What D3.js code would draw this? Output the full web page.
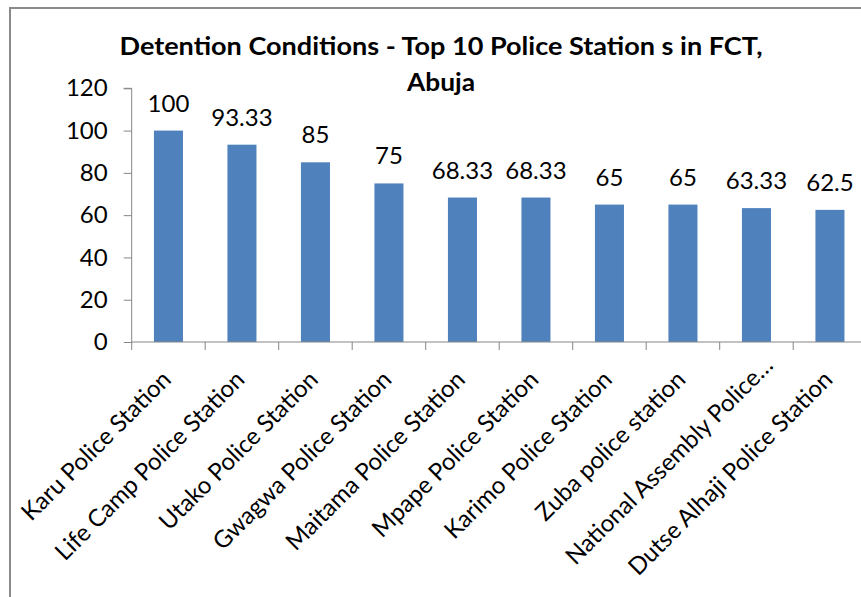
<!DOCTYPE html>
<html><head><meta charset="utf-8">
<script src="https://cdn.jsdelivr.net/npm/d3@7"></script>
<style>body{margin:0;background:#fff}svg{display:block}</style>
</head><body>
<svg id="c" width="861" height="597"></svg>
<script>
const categories = ["Karu Police Station","Life Camp Police Station","Utako Police Station","Gwagwa Police Station","Maitama Police Station","Mpape Police Station","Karimo Police Station","Zuba police station","National Assembly Police…","Dutse Alhaji Police Station"];
const values = [100, 93.33, 85, 75, 68.33, 68.33, 65, 65, 63.33, 62.5];
const valueLabels = ["100","93.33","85","75","68.33","68.33","65","65","63.33","62.5"];
const yTicks = [0, 20, 40, 60, 80, 100, 120];
const titleLines = ["Detention Conditions - Top 10 Police Station s in FCT,", "Abuja"];

const svg = d3.select("#c");
const font = "Lato, 'Open Sans', sans-serif";

// outer border
svg.append("rect").attr("x",10).attr("y",8).attr("width",900).attr("height",650)
  .attr("fill","#fff").attr("stroke","#8a8a8a").attr("stroke-width",2);

const x0 = 131.7, step = 73.5;
const x = d3.scaleBand().domain(categories).range([x0, x0 + step*categories.length])
  .paddingInner(0.605).paddingOuter(0.3025);
const y = d3.scaleLinear().domain([0,120]).range([342, 88.3]);

// bars
svg.append("g").selectAll("rect").data(values).join("rect")
  .attr("x",(d,i)=>x(categories[i])).attr("width",x.bandwidth())
  .attr("y",d=>y(d)).attr("height",d=>y(0)-y(d)).attr("fill","#4F81BD");

// y axis
const ya = svg.append("g").attr("transform",`translate(${x0},0)`)
  .call(d3.axisLeft(y).tickValues(yTicks).tickSize(8).tickPadding(16).tickFormat(d3.format("d")));
ya.select(".domain").attr("stroke","#868686").attr("d",`M-8,${y(120)}H0V${y(0)}`);
ya.selectAll(".tick line").attr("stroke","#868686");
ya.selectAll(".tick text").attr("font-family",font).attr("font-size",24).attr("fill","#000");

// x axis
const xa = svg.append("g").attr("transform",`translate(0,${y(0)})`)
  .call(d3.axisBottom(x).tickSize(0).tickFormat(""));
xa.select(".domain").attr("stroke","#868686").attr("d",`M${x0},0H${x0+step*categories.length}`);
svg.append("g").selectAll("line").data(categories).join("line")
  .attr("x1",d=>x(d)-x.step()*x.paddingInner()/2).attr("x2",d=>x(d)-x.step()*x.paddingInner()/2)
  .attr("y1",y(0)).attr("y2",y(0)+8).attr("stroke","#868686");

// category labels (truncated labels sit a little further out, as in the original)
svg.append("g").selectAll("text").data(categories).join("text")
  .attr("transform",d=>`translate(${x(d)+x.bandwidth()/2+4},${y(0)+39}) rotate(-45)`)
  .attr("dx",d=>d.endsWith("…")?20:0)
  .attr("text-anchor","end").attr("font-family",font).attr("font-size",24).attr("fill","#000")
  .text(d=>d);

// data labels
svg.append("g").selectAll("text").data(values).join("text")
  .attr("x",(d,i)=>x(categories[i])+x.bandwidth()/2).attr("y",d=>y(d)-19)
  .attr("text-anchor","middle").attr("font-family",font).attr("font-size",24).attr("fill","#000")
  .text((d,i)=>valueLabels[i]);

// title
const tl = svg.append("g");
tl.append("text").attr("x",441).attr("y",55).attr("text-anchor","middle")
  .attr("font-family",font).attr("font-weight","bold").attr("font-size",24)
  .attr("textLength",643).attr("lengthAdjust","spacingAndGlyphs").text(titleLines[0]);
tl.append("text").attr("x",441).attr("y",91).attr("text-anchor","middle")
  .attr("font-family",font).attr("font-weight","bold").attr("font-size",24)
  .attr("textLength",68).attr("lengthAdjust","spacingAndGlyphs").text(titleLines[1]);
</script>
</body></html>
